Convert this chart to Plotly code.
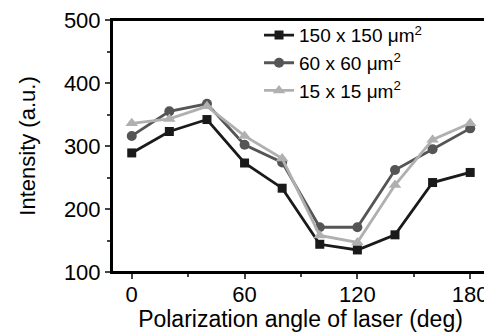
import plotly.graph_objects as go

angles = [0, 20, 40, 60, 80, 100, 120, 140, 160, 180]
s150 = [289, 323, 342, 273, 233, 144, 135, 159, 242, 258]
s60 = [316, 355, 367, 302, 274, 171, 171, 262, 295, 328]
s15 = [336, 343, 363, 316, 280, 158, 147, 238, 310, 336]
names = ["150 x 150 \u03bcm<sup>2</sup>", "60 x 60 \u03bcm<sup>2</sup>", "15 x 15 \u03bcm<sup>2</sup>"]
x_ticks = [0, 60, 120, 180]
y_ticks = [100, 200, 300, 400, 500]

fig = go.Figure()
styles = [("#1a1a1a", "square", 9), ("#555555", "circle", 10), ("#b0b0b0", "triangle-up", 11)]
for name, vals, (c, sym, sz) in zip(names, [s150, s60, s15], styles):
    fig.add_trace(go.Scatter(x=angles, y=vals, name=name, mode="lines+markers",
                             line=dict(color=c, width=2.8),
                             marker=dict(symbol=sym, size=sz, color=c)))

font = "Liberation Sans, Arial, sans-serif"
# page body has an 8px margin, so the figure is sized to fill the rest of the window
fig.update_layout(
    width=484, height=324,
    margin=dict(l=104, r=3, t=12, b=60, autoexpand=False),
    paper_bgcolor="white", plot_bgcolor="white",
    font=dict(family=font, color="black"),
    showlegend=True,
    legend=dict(x=0.39, y=1.015, xanchor="left", yanchor="top", bgcolor="rgba(0,0,0,0)",
                font=dict(size=19), itemwidth=30, tracegroupgap=0),
    shapes=[dict(type="rect", xref="paper", yref="paper", x0=0, x1=1, y0=0, y1=1,
                 line=dict(color="black", width=2), layer="above")],
    xaxis=dict(range=[-10.5, 190], tickvals=x_ticks, ticks="outside", ticklen=5, tickwidth=2,
               showline=True, linewidth=2, linecolor="black", mirror=True, showgrid=False,
               zeroline=False, tickfont=dict(size=22), automargin=False,
               ticklabeloverflow="allow", ticklabelstandoff=-3,
               minor=dict(tickvals=[30, 90, 150], ticks="outside", ticklen=3, tickwidth=2),
               title=dict(text="Polarization angle of laser (deg)", font=dict(size=23), standoff=3)),
    yaxis=dict(range=[100, 500], tickvals=y_ticks, ticks="outside", ticklen=5, tickwidth=2,
               showline=True, linewidth=2, linecolor="black", mirror=True, showgrid=False,
               zeroline=False, tickfont=dict(size=22), automargin=False,
               ticklabeloverflow="allow",
               minor=dict(tickvals=[150, 250, 350, 450], ticks="outside", ticklen=3, tickwidth=2),
               title=dict(text="Intensity (a.u.)", font=dict(size=22), standoff=22)),
)
fig.write_html("out.html")
